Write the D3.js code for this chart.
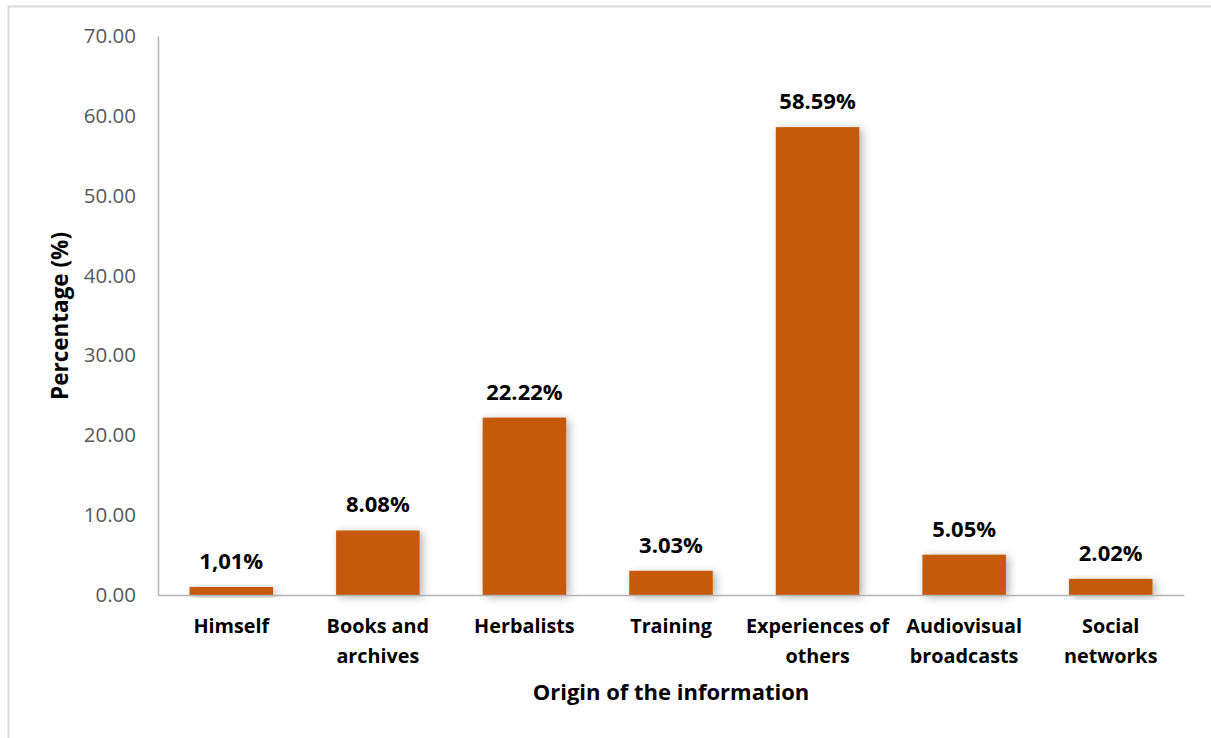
<!DOCTYPE html>
<html>
<head>
<meta charset="utf-8">
<script src="https://cdn.jsdelivr.net/npm/d3@7"></script>
<style>
  html, body { margin: 0; padding: 0; background: #fff; }
  svg { display: block; font-family: "Open Sans", "Lato", sans-serif; }
</style>
</head>
<body>
<svg id="chart" width="1211" height="738"></svg>
<script>
const categories = ["Himself", "Books and archives", "Herbalists", "Training", "Experiences of others", "Audiovisual broadcasts", "Social networks"];
const categoryLines = [["Himself"], ["Books and", "archives"], ["Herbalists"], ["Training"], ["Experiences of", "others"], ["Audiovisual", "broadcasts"], ["Social", "networks"]];
const values = [1.01, 8.08, 22.22, 3.03, 58.59, 5.05, 2.02];
const valueLabels = ["1,01%", "8.08%", "22.22%", "3.03%", "58.59%", "5.05%", "2.02%"];
const yTicks = [0, 10, 20, 30, 40, 50, 60, 70];

const svg = d3.select("#chart");

// outer frame
svg.append("rect").attr("x", 8.5).attr("y", 6.5).attr("width", 1220).attr("height", 760)
  .attr("fill", "none").attr("stroke", "#d9d9d9").attr("stroke-width", 2);

const defs = svg.append("defs");
const f = defs.append("filter").attr("id", "shadow").attr("x", "-20%").attr("y", "-20%").attr("width", "150%").attr("height", "150%");
f.append("feDropShadow").attr("dx", 3).attr("dy", 2).attr("stdDeviation", 4).attr("flood-color", "#000").attr("flood-opacity", 0.3);

const plotLeft = 158, plotRight = 1184, plotTop = 36, plotBottom = 595;
const x = d3.scaleBand().domain(categories).range([plotLeft, plotRight]).paddingInner(0.43).paddingOuter(0.215);
const y = d3.scaleLinear().domain([0, 70]).range([plotBottom, plotTop]);

// y axis
const yAxis = d3.axisLeft(y).tickValues(yTicks).tickFormat(d3.format(".2f")).tickSize(0).tickPadding(22);
const gy = svg.append("g").attr("transform", `translate(${plotLeft},0)`).call(yAxis);
gy.select(".domain").attr("stroke", "#b3b3b3").attr("stroke-width", 1.5);
gy.selectAll("text").attr("fill", "#595959").style("font-size", "20.5px").style("font-family", "'Open Sans', sans-serif");

// bars
svg.append("g").selectAll("rect").data(values).join("rect")
  .attr("x", (d, i) => x(categories[i]))
  .attr("y", d => y(d))
  .attr("width", x.bandwidth())
  .attr("height", d => y(0) - y(d))
  .attr("fill", "#c55a11")
  .attr("filter", "url(#shadow)");

// x axis
const xAxis = d3.axisBottom(x).tickSize(0).tickFormat("");
const gx = svg.append("g").attr("transform", `translate(0,${plotBottom})`).call(xAxis);
gx.select(".domain").attr("stroke", "#b3b3b3").attr("stroke-width", 1.5);

// category labels
const catG = svg.append("g");
categories.forEach((c, i) => {
  const t = catG.append("text")
    .attr("x", x(c) + x.bandwidth() / 2)
    .attr("y", 633)
    .attr("text-anchor", "middle")
    .style("font-size", "19.8px").style("font-weight", "bold").attr("fill", "#000");
  categoryLines[i].forEach((ln, j) => {
    t.append("tspan").attr("x", x(c) + x.bandwidth() / 2).attr("dy", j === 0 ? 0 : 30).text(ln);
  });
});

// value labels
svg.append("g").selectAll("text").data(values).join("text")
  .attr("x", (d, i) => x(categories[i]) + x.bandwidth() / 2)
  .attr("y", d => y(d) - 18)
  .attr("text-anchor", "middle")
  .style("font-size", "22px").style("font-weight", "bold").attr("fill", "#000")
  .text((d, i) => valueLabels[i]);

// axis titles
svg.append("text").attr("x", 671).attr("y", 700).attr("text-anchor", "middle")
  .style("font-size", "22px").style("font-weight", "bold").text("Origin of the information");
svg.append("text").attr("transform", "translate(68,316) rotate(-90)").attr("text-anchor", "middle")
  .style("font-size", "22.5px").style("font-weight", "bold").text("Percentage (%)");
</script>
</body>
</html>
